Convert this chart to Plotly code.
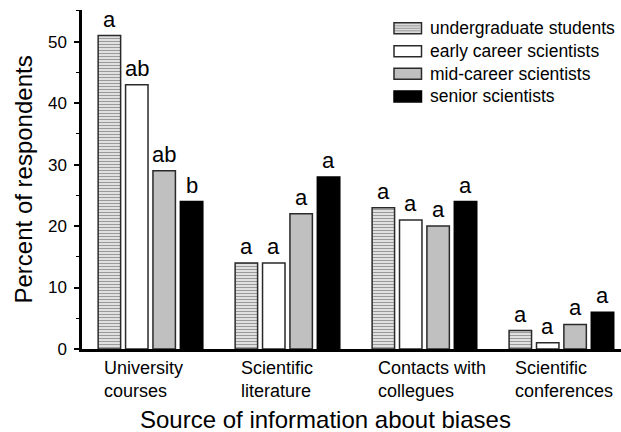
import plotly.graph_objects as go

# ── Data ──────────────────────────────────────────────────────────────────────
SOURCES = ["University<br>courses", "Scientific<br>literature",
           "Contacts with<br>collegues", "Scientific<br>conferences"]
GROUPS = ["undergraduate students", "early career scientists",
          "mid-career scientists", "senior scientists"]

UNDERGRAD = [51, 14, 23, 3]
EARLY     = [43, 14, 21, 1]
MID       = [29, 22, 20, 4]
SENIOR    = [24, 28, 24, 6]

LETTERS_UNDERGRAD = ["a", "a", "a", "a"]
LETTERS_EARLY     = ["ab", "a", "a", "a"]
LETTERS_MID       = ["ab", "a", "a", "a"]
LETTERS_SENIOR    = ["b", "a", "a", "a"]

Y_TICKS = [0, 10, 20, 30, 40, 50]

# ── Style ─────────────────────────────────────────────────────────────────────
FONT = "Liberation Sans, Arial, sans-serif"
EDGE = "#2a2a2a"
W, H = 621, 432
L, R, T, B = 82, 0, 10, 83
PW, PH = W - L - R, H - T - B

series = [
    (GROUPS[0], UNDERGRAD, LETTERS_UNDERGRAD,
     dict(color="#e4e4e4", pattern=dict(shape="-", size=3, solidity=0.4,
                                        fgcolor="#9a9a9a", bgcolor="#e8e8e8",
                                        fillmode="replace"))),
    (GROUPS[1], EARLY, LETTERS_EARLY, dict(color="white")),
    (GROUPS[2], MID, LETTERS_MID, dict(color="#c0c0c0")),
    (GROUPS[3], SENIOR, LETTERS_SENIOR, dict(color="black")),
]

x_idx = list(range(len(SOURCES)))
OFFSETS = [-0.3, -0.1, 0.1, 0.3]

fig = go.Figure()
annotations = []
for k, (name, vals, letters, marker) in enumerate(series):
    fig.add_trace(go.Bar(
        x=x_idx, y=vals, name=name, showlegend=False,
        marker=dict(**marker, line=dict(color="black" if k == 3 else EDGE, width=1.5)),
    ))
    for i, (v, t) in enumerate(zip(vals, letters)):
        annotations.append(dict(
            x=i + OFFSETS[k], y=v, text=t, showarrow=False,
            xref="x", yref="y", yanchor="bottom", yshift=2,
            font=dict(size=22, color="black", family=FONT),
        ))

# category labels, left aligned like the original
for i, lab in enumerate(SOURCES):
    annotations.append(dict(
        x=i - 0.4, y=0, text=lab, showarrow=False, xref="x", yref="y",
        xanchor="left", yanchor="top", align="left", xshift=6, yshift=-7,
        font=dict(size=18, color="black", family=FONT),
    ))

# axis titles
annotations.append(dict(
    x=(325 - L) / PW, y=(T + PH - 419) / PH, xref="paper", yref="paper",
    text="Source of information about biases", showarrow=False,
    xanchor="center", yanchor="middle",
    font=dict(size=24, color="black", family=FONT),
))
annotations.append(dict(
    x=(23 - L) / PW, y=0.5, xref="paper", yref="paper",
    text="Percent of respondents", showarrow=False, textangle=-90,
    xanchor="center", yanchor="middle",
    font=dict(size=24, color="black", family=FONT),
))

# ── Hand-built legend (wide flat swatches) ────────────────────────────────────
def px_x(p):
    return (p - L) / PW


def px_y(p):
    return (T + PH - p) / PH


shapes = []
rows_y = [28.3, 51.2, 73.8, 96.4]
fills = ["#dcdcdc", "white", "#c0c0c0", "black"]
for j, (name, fill) in enumerate(zip(GROUPS, fills)):
    cy = rows_y[j]
    shapes.append(dict(
        type="rect", xref="paper", yref="paper",
        x0=px_x(394), x1=px_x(421.5), y0=px_y(cy - 5.5), y1=px_y(cy + 5.5),
        fillcolor=fill, line=dict(color="black" if j == 3 else EDGE, width=1.5),
        layer="above",
    ))
    if j == 0:
        for dy in (-2.5, 0, 2.5):
            shapes.append(dict(
                type="line", xref="paper", yref="paper",
                x0=px_x(395), x1=px_x(420.5), y0=px_y(cy + dy), y1=px_y(cy + dy),
                line=dict(color="#999999", width=1), layer="above",
            ))
    annotations.append(dict(
        x=px_x(428), y=px_y(cy), xref="paper", yref="paper", text=name,
        showarrow=False, xanchor="left", yanchor="middle",
        font=dict(size=17.5, color="black", family=FONT),
    ))

fig.update_layout(
    width=W, height=H,
    margin=dict(l=L, r=R, t=T, b=B, pad=0),
    paper_bgcolor="white", plot_bgcolor="white",
    font=dict(family=FONT, color="black", size=17),
    barmode="group", bargap=0.2, bargroupgap=0.18,
    showlegend=False,
    annotations=annotations, shapes=shapes,
    xaxis=dict(
        range=[-0.5, 3.435], showticklabels=False, ticks="",
        showline=True, linecolor="black", linewidth=3,
        showgrid=False, zeroline=False, fixedrange=True,
    ),
    yaxis=dict(
        range=[0, 55.16], tickvals=Y_TICKS, ticks="outside", ticklen=5,
        tickwidth=1.5, tickcolor="black", ticklabelstandoff=4,
        tickfont=dict(size=17, color="black"),
        minor=dict(dtick=5, tick0=0, ticks="outside", ticklen=3,
                   tickwidth=1, tickcolor="black"),
        showline=True, linecolor="black", linewidth=2.5,
        showgrid=False, zeroline=False, fixedrange=True,
    ),
)

# the page body has an 8px default margin; drop it so the figure fills the window
fig.write_html("out.html", config=dict(displayModeBar=False),
               post_script="document.body.style.margin='0';")
